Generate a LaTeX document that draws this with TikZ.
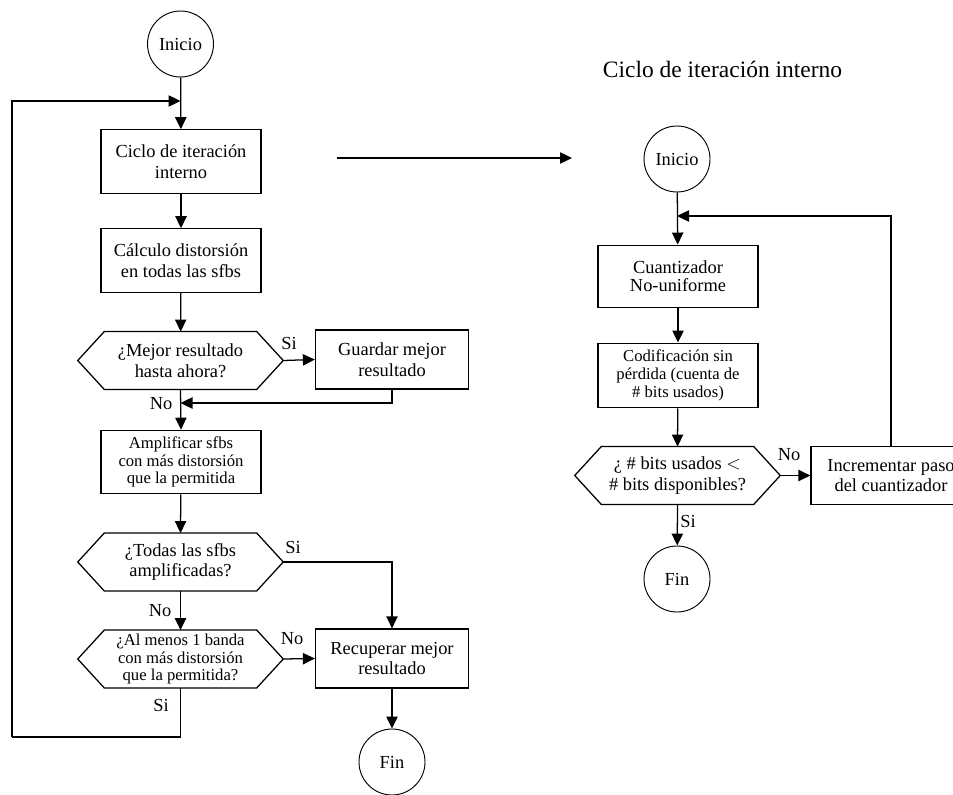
\documentclass[tikz,border=0pt]{standalone}
\usepackage{fontspec}
\setmainfont{Liberation Serif}
\usetikzlibrary{arrows.meta,calc}

\tikzset{
  x=0.75pt, y=-0.75pt,
  line/.style={line width=0.95pt, black},
  arr/.style={line, -{Triangle[length=9pt,width=8.5pt]}},
  txt/.style={font=\fontsize{13.8}{15.5}\selectfont, align=center},
  smalltxt/.style={font=\fontsize{12.5}{13.2}\selectfont, align=center},
  procbox/.style={draw, line width=0.95pt, rectangle, inner sep=0pt,
    minimum width=120pt, minimum height=47.5pt},
  term/.style={draw, line width=0.7pt, circle, inner sep=0pt, minimum size=49.5pt, txt},
  decbox/.style={rectangle, inner sep=0pt, minimum width=153.75pt, minimum height=43pt},
  lbl/.style={txt, inner sep=1pt},
}

% outline of a decision hexagon around a (borderless) rectangular node
\newcommand{\hexoutline}[1]{%
  \draw[line]
    (#1.west) -- ([xshift=19.9pt]#1.north west) -- ([xshift=-19.9pt]#1.north east)
    -- (#1.east) -- ([xshift=-19.9pt]#1.south east) -- ([xshift=19.9pt]#1.south west)
    -- cycle;}

\begin{document}
\begin{tikzpicture}
\useasboundingbox (0,0) rectangle (953,795);
\clip (0,0) rectangle (953,795);

% ---------------- main loop ----------------
\node[term] (ini) at (180.5,44) {Inicio};
\node[procbox, txt] (b1) at (181,161.5) {Ciclo de iteración\\interno};
\node[procbox, txt] (b2) at (181,260.5) {Cálculo distorsión\\en todas las sfbs};
\node[decbox, txt] (d1) at (180.5,360.5) {¿Mejor resultado\\hasta ahora?};
\hexoutline{d1}
\node[procbox, txt, minimum width=114.75pt, minimum height=44.25pt] (gu) at (392,359.5) {Guardar mejor\\resultado};
\node[procbox, smalltxt] (b3) at (181,462) {Amplificar sfbs\\con más distorsión\\que la permitida};
\node[decbox, txt] (d2) at (180.5,562) {¿Todas las sfbs\\amplificadas?};
\hexoutline{d2}
\node[decbox, smalltxt] (d3) at (180.5,659) {¿Al menos 1 banda\\con más distorsión\\que la permitida?};
\hexoutline{d3}
\node[procbox, txt, minimum width=114.75pt, minimum height=44.25pt] (rec) at (392,658.5) {Recuperar mejor\\resultado};
\node[term] (fin) at (392,762) {Fin};

\coordinate (j1) at (180.5,101);
\coordinate (j2) at (180.5,403);
\coordinate (c1) at (12,737);

\draw[arr] (ini) -- (b1);
\draw[arr] (b1) -- (b2);
\draw[arr] (b2) -- (d1);
\draw[arr] (d1.east) -- (gu.west);
\draw[arr] (gu.south) |- (j2);
\draw[arr] (d1.south) -- (b3.north);
\draw[arr] (b3) -- (d2.north);
\draw[arr] (d2.south) -- (d3.north);
\draw[arr] (d2.east) -| (rec.north);
\draw[arr] (d3.east) -- (rec.west);
\draw[arr] (rec) -- (fin);
\draw[line] (d3.south) |- (c1);
\draw[arr] (c1) |- (j1);

\node[lbl] (s1) at (289,343) {Si};
\node[lbl] (n1) at (161,404) {No};
\node[lbl] (s2) at (293,547) {Si};
\node[lbl] (n2) at (160,611) {No};
\node[lbl] (n3) at (292,639) {No};
\node[lbl] (s3) at (161,705) {Si};

% link to the inner loop
\coordinate (a1) at (337,158);
\coordinate (a2) at (572,158);
\draw[arr] (a1) -- (a2);

% ---------------- inner loop ----------------
\node[font=\fontsize{17.6}{20}\selectfont] (tit) at (722.5,69) {Ciclo de iteración interno};
\node[term] (ini2) at (677,159) {Inicio};
\node[procbox, txt, minimum height=47pt, font=\fontsize{13.8}{13.5}\selectfont] (cu) at (678,276.5) {Cuantizador\\No-uniforme};
\node[procbox, smalltxt, minimum height=48.5pt] (cod) at (678,375.5) {Codificación sin\\pérdida (cuenta de\\\# bits usados)};
\node[decbox, txt] (d4) at (677.5,475.5) {¿ \# bits usados $<$\\\# bits disponibles?};
\hexoutline{d4}
\node[procbox, txt, minimum height=43pt] (inc) at (891,475.5) {Incrementar paso\\del cuantizador};
\node[term] (fin2) at (677,579) {Fin};

\coordinate (j3) at (677,216);
\draw[arr] (ini2) -- (cu);
\draw[arr] (cu) -- (cod);
\draw[arr] (cod) -- (d4.north);
\draw[arr] (d4.east) -- (inc.west);
\draw[arr] (inc.north) |- (j3);
\draw[arr] (d4.south) -- (fin2);

\node[lbl] (n4) at (789,455) {No};
\node[lbl] (s4) at (688,521) {Si};
\end{tikzpicture}
\end{document}
